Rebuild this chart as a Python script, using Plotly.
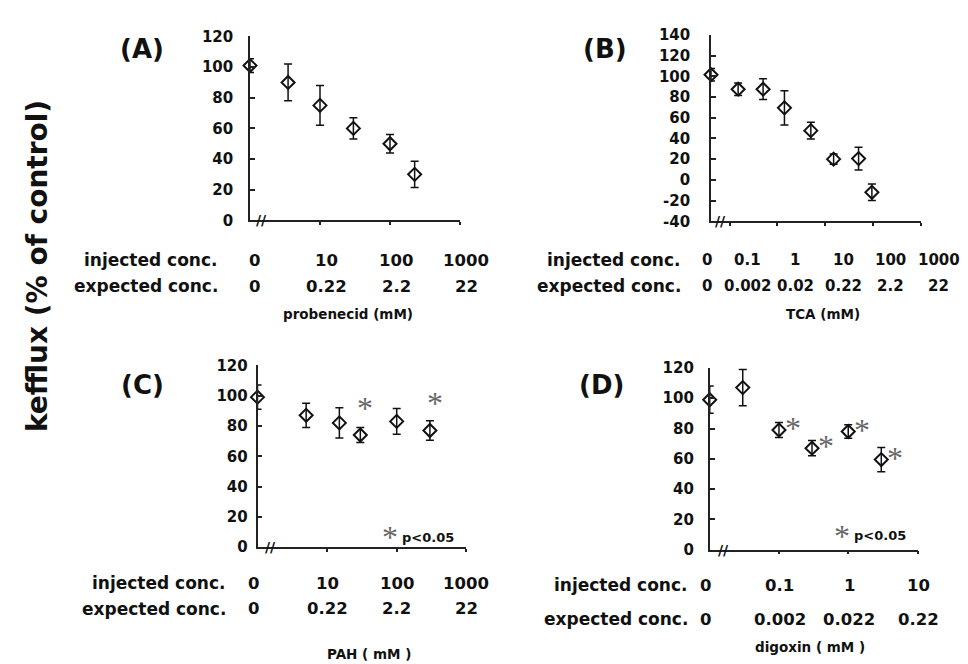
import math
import plotly.graph_objects as go

W, H = 968, 664
FONT = "DejaVu Sans"

# ---------------- data ----------------
# (A) probenecid
A_conc = [0, 3.5, 10, 30, 100, 225]
A_val = [101, 90, 75, 60, 50, 30]
A_err = [4.5, 12, 13, 7, 6, 8.5]
A_sig = [False, False, False, False, False, False]
A_ticks = [0, 10, 100, 1000]
A_inj = ["0", "10", "100", "1000"]
A_exp = ["0", "0.22", "2.2", "22"]

# (B) TCA
B_conc = [0, 0.15, 0.5, 1.4, 5, 15, 50, 95]
B_val = [101.5, 87.5, 87.5, 69.5, 47.5, 20, 20.5, -12]
B_err = [6, 6, 10, 16.5, 8, 5, 11, 8]
B_sig = [False] * 8
B_ticks = [0, 0.1, 1, 10, 100, 1000]
B_inj = ["0", "0.1", "1", "10", "100", "1000"]
B_exp = ["0", "0.002", "0.02", "0.22", "2.2", "22"]

# (C) PAH
C_conc = [0, 5, 15, 30, 100, 300]
C_val = [99, 87, 82, 74, 83, 77]
C_err = [8, 8, 10, 5, 8.5, 6.5]
C_sig = [False, False, False, True, False, True]
C_ticks = [0, 10, 100, 1000]
C_inj = ["0", "10", "100", "1000"]
C_exp = ["0", "0.22", "2.2", "22"]

# (D) digoxin
D_conc = [0, 0.03, 0.1, 0.3, 1, 3]
D_val = [99, 107, 79, 67, 78, 59.5]
D_err = [9, 12, 5, 5, 4.5, 8]
D_sig = [False, False, True, True, True, True]
D_ticks = [0, 0.1, 1, 10]
D_inj = ["0", "0.1", "1", "10"]
D_exp = ["0", "0.002", "0.022", "0.22"]

# ---------------- layout per panel (pixel geometry) ----------------
panels = [
    dict(name="(A)", conc=A_conc, val=A_val, err=A_err, sig=A_sig, ticks=A_ticks,
         inj=A_inj, exp=A_exp, title="probenecid (mM)",
         xpx=(242, 452), ypx=(209, 20), xr=(0, 3), yr=(0, 120), ytick=20,
         label_xy=(134, 33), row_right=212, rows=(250, 277), title_xy=(340, 305),
         lshift=6, zshift=4, standoff=12, sig_shift=(0, 0), pval=None, brk=11, numsize=16.5),
    dict(name="(B)", conc=B_conc, val=B_val, err=B_err, sig=B_sig, ticks=B_ticks,
         inj=B_inj, exp=B_exp, title="TCA (mM)",
         xpx=(703, 912.7), ypx=(210, 18.3), xr=(-1.392, 3), yr=(-40, 140), ytick=20,
         label_xy=(597, 33), row_right=675, rows=(250, 277), title_xy=(815, 305),
         lshift=18, zshift=-4, standoff=16, sig_shift=(0, 0), pval=None, brk=9, numsize=15),
    dict(name="(C)", conc=C_conc, val=C_val, err=C_err, sig=C_sig, ticks=C_ticks,
         inj=C_inj, exp=C_exp, title="PAH ( mM )",
         xpx=(249.5, 458.3), ypx=(545, 358), xr=(0, 3), yr=(0, 120), ytick=20,
         label_xy=(134, 378), row_right=220, rows=(582, 608), title_xy=(361, 655),
         lshift=0, zshift=-4, standoff=5, sig_shift=(5, 27), pval=(382, 535), brk=13, numsize=16.5),
    dict(name="(D)", conc=D_conc, val=D_val, err=D_err, sig=D_sig, ticks=D_ticks,
         inj=D_inj, exp=D_exp, title="digoxin ( mM )",
         xpx=(701.7, 909.5), ypx=(547.5, 360.7), xr=(-2, 1), yr=(0, 120), ytick=20,
         label_xy=(593, 378), row_right=682, rows=(584, 619), title_xy=(802, 648),
         lshift=1, zshift=-4, standoff=11, sig_shift=(14, 2), pval=(834, 533), brk=14, numsize=16.5),
]


def fx(px):
    return px / W


def fy(py):
    return 1 - py / H


fig = go.Figure()
annotations = []
bold = dict(family=FONT, color="#111", weight="bold")
STAR_FONT = dict(size=32, family="Liberation Serif", color="#666")
STAR_DY = 0

for i, p in enumerate(panels, start=1):
    xa = "x" if i == 1 else f"x{i}"
    ya = "y" if i == 1 else f"y{i}"
    origin = 10 ** p["xr"][0]
    xs = [origin if c == 0 else c for c in p["conc"]]

    fig.add_trace(go.Scatter(
        x=xs, y=p["val"], mode="markers", xaxis=xa, yaxis=ya,
        marker=dict(symbol="diamond-open", size=10, color="#111", line=dict(width=2, color="#111")),
        error_y=dict(type="data", array=p["err"], visible=True, color="#111", thickness=1.5, width=4),
        cliponaxis=False, showlegend=False, hoverinfo="skip"))

    xkey = "xaxis" if i == 1 else f"xaxis{i}"
    ykey = "yaxis" if i == 1 else f"yaxis{i}"
    fig.layout[xkey] = dict(
        type="log", range=list(p["xr"]), domain=[fx(p["xpx"][0]), fx(p["xpx"][1])],
        anchor=ya, showline=True, linecolor="#222", linewidth=1.6, mirror=False,
        ticks="outside", ticklen=3, tickwidth=1.5, tickcolor="#222",
        tickvals=[t for t in p["ticks"] if t > 0], showticklabels=False,
        showgrid=False, zeroline=False, fixedrange=True)
    ytv = list(range(int(p["yr"][0]), int(p["yr"][1]) + 1, p["ytick"]))
    fig.layout[ykey] = dict(
        range=list(p["yr"]), domain=[fy(p["ypx"][0]), fy(p["ypx"][1])],
        anchor=xa, showline=True, linecolor="#222", linewidth=1.6,
        ticks="inside", ticklen=5, tickwidth=1.5, tickcolor="#222",
        tickvals=ytv, ticktext=[str(v) for v in ytv],
        tickfont=dict(size=15, **bold), ticklabelstandoff=p["standoff"],
        showgrid=False, zeroline=False, fixedrange=True)

    # panel label
    annotations.append(dict(text=p["name"], xref="paper", yref="paper",
                            x=fx(p["label_xy"][0]), y=fy(p["label_xy"][1]),
                            xanchor="center", yanchor="middle", showarrow=False,
                            font=dict(size=26, **bold)))
    # row labels
    for row_y, txt in zip(p["rows"], ["injected conc.", "expected conc."]):
        annotations.append(dict(text=txt, xref="paper", yref="paper",
                                x=fx(p["row_right"]), y=fy(row_y),
                                xanchor="right", yanchor="middle", showarrow=False,
                                font=dict(size=17, **bold)))
    # tick value rows
    for t, inj, ex in zip(p["ticks"], p["inj"], p["exp"]):
        lx = p["xr"][0] if t == 0 else math.log10(t)
        sh = p["zshift"] if t == 0 else p["lshift"]
        for row_y, txt in zip(p["rows"], [inj, ex]):
            annotations.append(dict(text=txt, xref=xa, yref="paper", x=lx, y=fy(row_y),
                                    xshift=sh, xanchor="center", yanchor="middle",
                                    showarrow=False, font=dict(size=p["numsize"], **bold)))
    # axis title
    annotations.append(dict(text=p["title"], xref="paper", yref="paper",
                            x=fx(p["title_xy"][0]), y=fy(p["title_xy"][1]),
                            xanchor="center", yanchor="middle", showarrow=False,
                            font=dict(size=13.5, **bold)))
    # axis break
    annotations.append(dict(text="//", xref=f"{xa} domain", yref=ya, x=0, y=p["yr"][0],
                            xshift=p["brk"], xanchor="center", yanchor="middle",
                            showarrow=False, font=dict(size=14, family=FONT, color="#111", weight="bold")))
    # significance asterisks
    for c, v, s in zip(xs, p["val"], p["sig"]):
        if s:
            annotations.append(dict(text="*", xref=xa, yref=ya, x=math.log10(c), y=v,
                                    xshift=p["sig_shift"][0], yshift=p["sig_shift"][1] + STAR_DY,
                                    xanchor="center", yanchor="middle", showarrow=False,
                                    font=STAR_FONT))
    if p["pval"]:
        annotations.append(dict(text="*", xref="paper", yref="paper",
                                x=fx(p["pval"][0]), y=fy(p["pval"][1]), yshift=STAR_DY,
                                xanchor="center", yanchor="middle", showarrow=False,
                                font=STAR_FONT))
        annotations.append(dict(text="p<0.05", xref="paper", yref="paper",
                                x=fx(p["pval"][0] + 10), y=fy(p["pval"][1]),
                                xanchor="left", yanchor="middle", showarrow=False,
                                font=dict(size=13, **bold)))

# shared y title
annotations.append(dict(text="kefflux (% of control)", xref="paper", yref="paper",
                        x=fx(29), y=fy(256), textangle=-90, xanchor="center", yanchor="middle",
                        showarrow=False, font=dict(size=28, **bold)))

fig.update_layout(width=W, height=H, margin=dict(l=0, r=0, t=0, b=0),
                  paper_bgcolor="white", plot_bgcolor="white",
                  annotations=annotations, showlegend=False)

fig.write_html("out.html", config={"displayModeBar": False})
